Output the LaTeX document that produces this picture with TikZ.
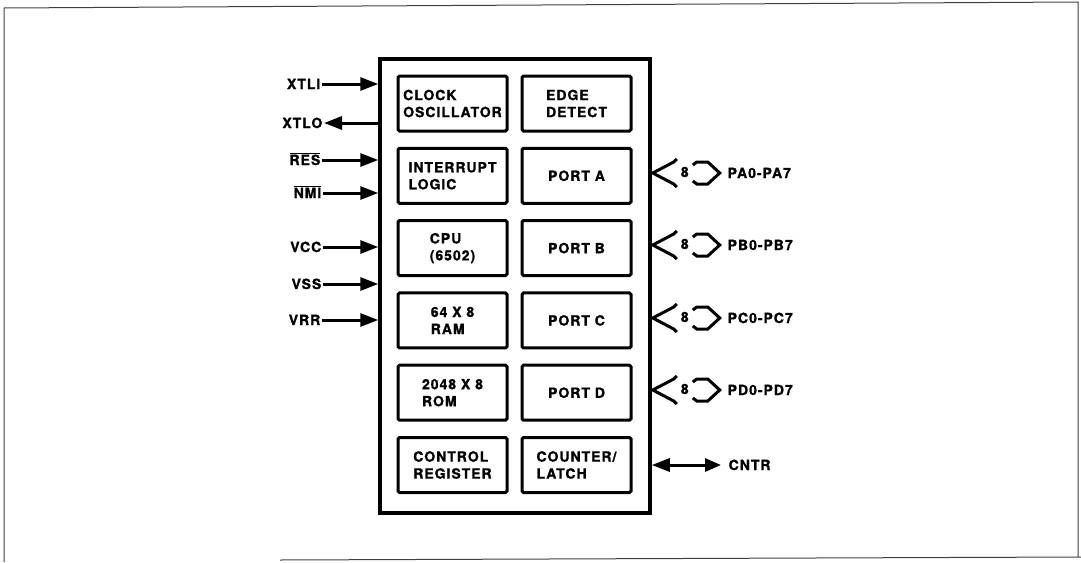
\documentclass[tikz,border=0pt]{standalone}
\usepackage{fontspec}
\newfontfamily\chipfont{TeX Gyre Heros}[LetterSpace=7,BoldFeatures={FakeBold=1.2}]
\usepackage{tikz}
\usetikzlibrary{arrows.meta,positioning}

\begin{document}
\begin{tikzpicture}[x=1pt,y=-1pt,
  every node/.style={font=\chipfont\bfseries\fontsize{14}{17}\selectfont},
  block/.style={draw,line width=3pt,rounded corners=1.5pt,minimum width=109pt,minimum height=55pt,align=left,inner sep=1pt,outer sep=0pt},
  pinlabel/.style={inner sep=1.5pt,text height=10pt,text depth=0pt},
  pinarrow/.style={line width=3pt,-{Triangle[length=18pt,width=13pt]}},
  bus/.style={line width=3pt,line join=miter}]
\useasboundingbox (0,0) rectangle (1081,562);
\draw[line width=1pt,black!75] (280,560) -- (1081,557) (4,562) -- (4,8) -- (1078,2) -- (1078,557);

\node[draw,line width=3.5pt,minimum width=270pt,minimum height=454pt,inner sep=0] (chip) at (515,286) {};

\node[block] (clk) at (452.5,103.5) {CLOCK\\OSCILLATOR};
\node[block,right=15pt of clk] (edge) {EDGE\\DETECT};
\node[block,below=17.3pt of clk] (irq) {INTERRUPT\\LOGIC};
\node[block,right=15pt of irq] (porta) {PORT A};
\node[block,below=17.3pt of irq] (cpu) {CPU\\(6502)};
\node[block,right=15pt of cpu] (portb) {PORT B};
\node[block,below=17.3pt of cpu] (ram) {64 X 8\\RAM};
\node[block,right=15pt of ram] (portc) {PORT C};
\node[block,below=17.3pt of ram] (rom) {2048 X 8\\ROM};
\node[block,right=15pt of rom] (portd) {PORT D};
\node[block,below=17.3pt of rom] (ctrl) {CONTROL\\REGISTER};
\node[block,right=15pt of ctrl] (cnt) {COUNTER/\\LATCH};

\node[pinlabel,anchor=east] (xtli) at (322,84) {XTLI};
\node[pinlabel,anchor=east] (xtlo) at (324,123) {XTLO};
\node[pinlabel,anchor=east] (res) at (322,160) {\(\overline{\mbox{RES}}\)};
\node[pinlabel,anchor=east] (nmi) at (323,193) {\(\overline{\mbox{NMI}}\)};
\node[pinlabel,anchor=east] (vcc) at (323,247) {VCC};
\node[pinlabel,anchor=east] (vss) at (323,284) {VSS};
\node[pinlabel,anchor=east] (vrr) at (322,320) {VRR};

\foreach \n in {xtli,res,nmi,vcc,vss,vrr}
  \draw[pinarrow] (\n.east) -- (\n.east -| chip.west);
\draw[pinarrow] (xtlo.east -| chip.west) -- (xtlo.east);

\foreach \p/\y in {A/173,B/245,C/318,D/390}{
  \node[pinlabel,anchor=west] (p\p) at (726,\y) {P\p0-P\p7};
  \begin{scope}[shift={(chip.east |- p\p.west)}]
    \draw[bus] (25,-14) -- (22,-11) -- (1,0) -- (22,11) -- (25,14);
    \draw[bus] (41,-8) -- (45,-11) -- (56,-11) -- (68,0) -- (56,11) -- (45,11) -- (41,8);
    \node[pinlabel] (w\p) at (33,-1) {8};
  \end{scope}
}

\node[pinlabel,anchor=west] (cntr) at (727,465) {CNTR};
\draw[line width=3pt,{Triangle[length=18pt,width=13pt]}-{Triangle[length=16pt,width=13pt]}] (chip.east |- cntr.west) -- ([xshift=-6pt]cntr.west);
\end{tikzpicture}
\end{document}
